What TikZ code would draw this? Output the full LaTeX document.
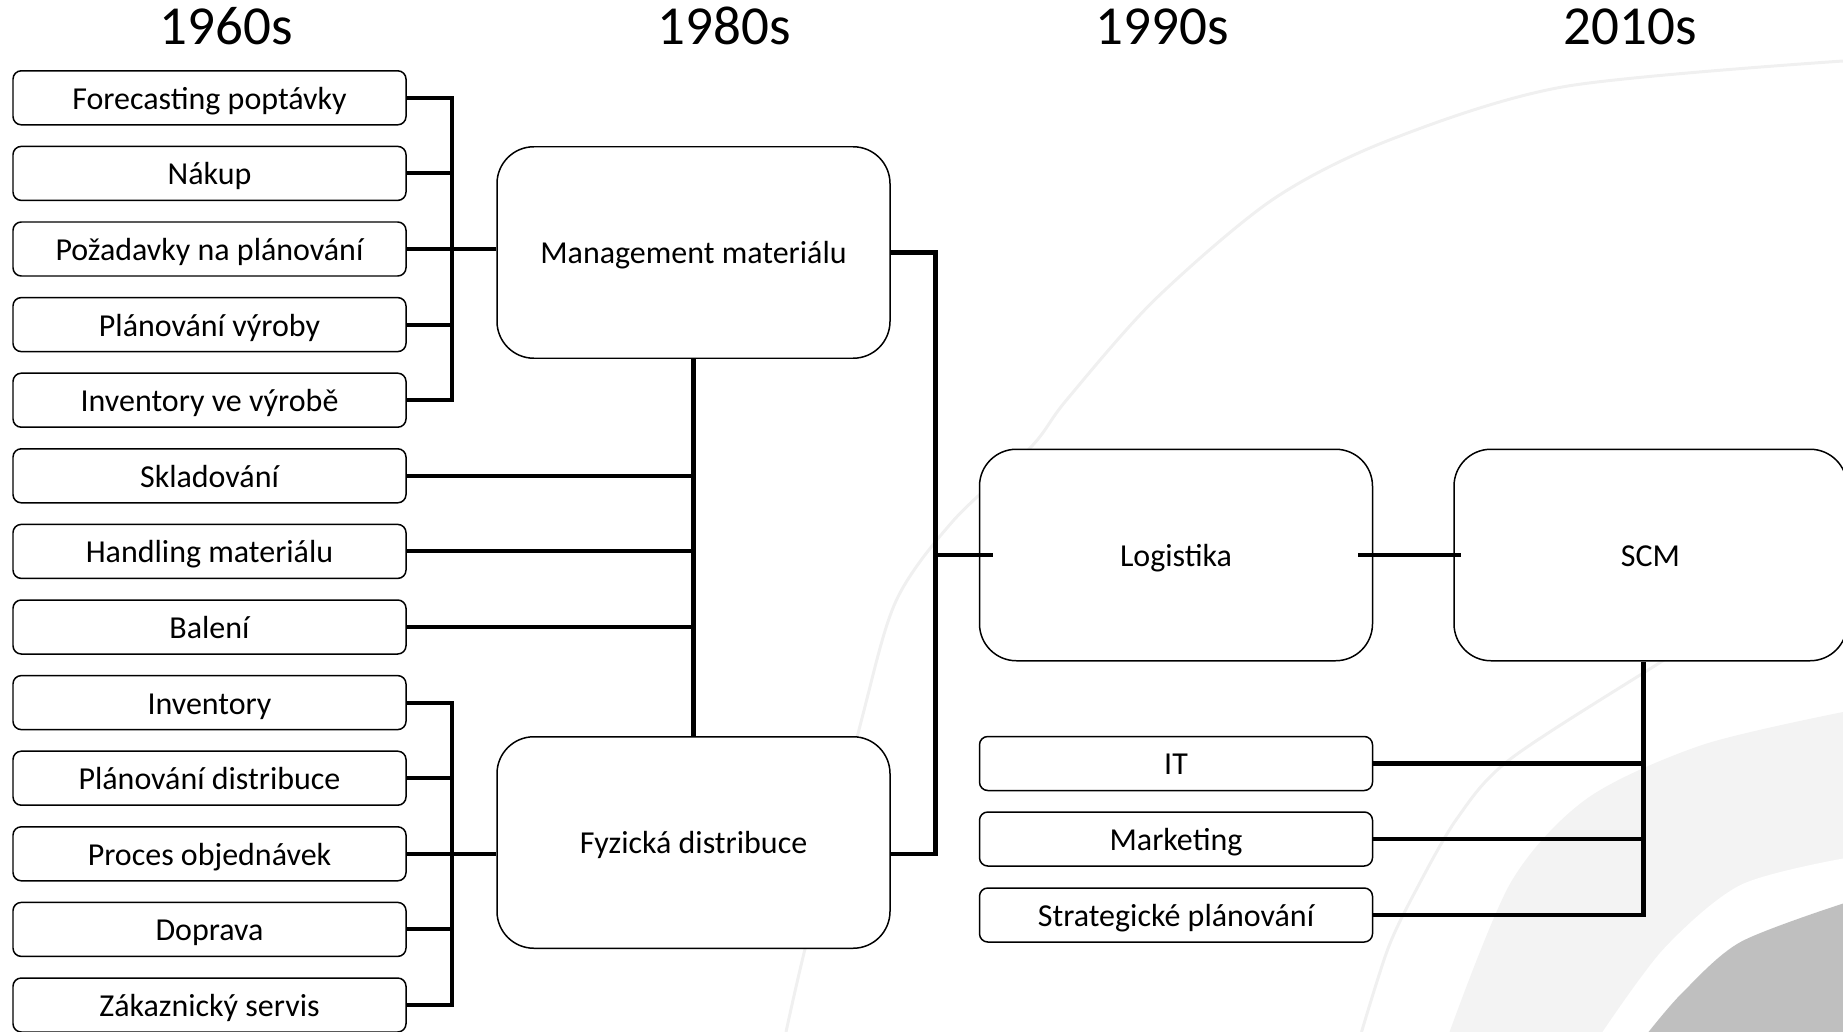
\documentclass[tikz,border=0pt]{standalone}
\usepackage{fontspec}
\setmainfont{Carlito}
\usepackage{tikz}
\usetikzlibrary{positioning}
\usepackage{xcolor}

\definecolor{ringline}{HTML}{F0F0F0}
\definecolor{ringlight}{HTML}{F3F3F3}
\definecolor{ringdark}{HTML}{BFBFBF}

\tikzset{
  itembox/.style={draw, line width=0.85pt, rounded corners=4.7pt, fill=white,
    minimum width=7.86cm, minimum height=1.08cm, inner sep=0pt,
    text height=15pt, text depth=2pt, font=\fontsize{18.2}{21}\selectfont},
  stagebox/.style={itembox, rounded corners=21pt, minimum height=4.23cm},
  era/.style={anchor=base, font=\fontsize{31.3}{36}\selectfont},
  link/.style={line width=2.3pt},
  ring/.style={line width=1.7pt, color=ringline}
}

\begin{document}
\begin{tikzpicture}

\useasboundingbox (0,0) rectangle (36.86,-20.64);

% background rings
\draw[ring] plot[smooth] coordinates {(36.86,-1.22) (31.3,-1.73) (27.79,-2.8) (25.44,-4) (23.09,-6) (21.33,-8) (20.63,-8.93) (19.06,-10.42) (17.92,-12.02) (17.22,-14.44) (16.08,-19.06) (15.72,-20.64)};
\draw[ring] plot[smooth] coordinates {(36.86,-11.1) (35.2,-12.0) (33.28,-13.2) (30.22,-15.17) (29.14,-16.37) (28.3,-17.84) (27.76,-18.97) (27.23,-20.64)};
\fill[ringlight] plot[smooth] coordinates {(36.86,-14.24) (34.04,-14.9) (31.74,-15.97) (30.22,-17.64) (28.99,-20.64)} -- (36.86,-20.64) -- cycle;
\fill[white] plot[smooth] coordinates {(36.86,-17.17) (34.81,-17.7) (33.28,-18.97) (32.05,-20.64)} -- (36.86,-20.64) -- cycle;
\fill[ringdark] plot[smooth] coordinates {(36.86,-18.07) (34.81,-18.84) (33.66,-19.84) (32.97,-20.64)} -- (36.86,-20.64) -- cycle;

% decades
\node[era] (t60) at (4.52,-0.9) {1960s};
\node[era] (t80) at (14.48,-0.9) {1980s};
\node[era] (t90) at (23.24,-0.9) {1990s};
\node[era] (t10) at (32.6,-0.9) {2010s};

% 1960s
\node[itembox] (fore) at (4.19,-1.956) {Forecasting poptávky};
\node[itembox] (nakup) at (4.19,-3.468) {Nákup};
\node[itembox] (pozad) at (4.19,-4.98) {Požadavky na plánování};
\node[itembox] (planvyr) at (4.19,-6.492) {Plánování výroby};
\node[itembox] (invvyr) at (4.19,-8.004) {Inventory ve výrobě};
\node[itembox] (sklad) at (4.19,-9.516) {Skladování};
\node[itembox] (handl) at (4.19,-11.028) {Handling materiálu};
\node[itembox] (balen) at (4.19,-12.54) {Balení};
\node[itembox] (inv) at (4.19,-14.052) {Inventory};
\node[itembox] (plandist) at (4.19,-15.564) {Plánování distribuce};
\node[itembox] (proces) at (4.19,-17.076) {Proces objednávek};
\node[itembox] (doprava) at (4.19,-18.588) {Doprava};
\node[itembox] (zakaz) at (4.19,-20.1) {Zákaznický servis};

% 1980s - 2010s
\node[stagebox] (mgmt) at (13.87,-5.05) {Management materiálu};
\node[stagebox] (fyz) at (13.87,-16.85) {Fyzická distribuce};
\node[stagebox] (logis) at (23.52,-11.1) {Logistika};
\node[stagebox] (scm) at (33.01,-11.1) {SCM};
\node[itembox] (it) at (23.52,-15.27) {IT};
\node[itembox] (mkt) at (23.52,-16.78) {Marketing};
\node[itembox] (strat) at (23.52,-18.3) {Strategické plánování};

\coordinate (brl) at (9.04,0);
\coordinate (brr) at (18.71,0);
\coordinate (brs) at (32.87,0);

\draw[link] (fore.east) -- (fore.east -| brl) -- (invvyr.east -| brl) -- (invvyr.east);
\draw[link] (nakup.east) -- (nakup.east -| brl);
\draw[link] (planvyr.east) -- (planvyr.east -| brl);
\draw[link] (pozad.east) -- (pozad.east -| mgmt.west);

\draw[link] (mgmt.south) -- (fyz.north);
\draw[link] (sklad.east) -- (sklad.east -| mgmt.south);
\draw[link] (handl.east) -- (handl.east -| mgmt.south);
\draw[link] (balen.east) -- (balen.east -| mgmt.south);

\draw[link] (inv.east) -- (inv.east -| brl) -- (zakaz.east -| brl) -- (zakaz.east);
\draw[link] (plandist.east) -- (plandist.east -| brl);
\draw[link] (doprava.east) -- (doprava.east -| brl);
\draw[link] (proces.east) -- (proces.east -| fyz.west);

\draw[link] (mgmt.east) -- (mgmt.east -| brr) -- (proces.east -| brr) -- (proces.east -| fyz.east);
\draw[link] (logis.west -| brr) -- ([xshift=0.28cm]logis.west);
\draw[link] ([xshift=-0.3cm]logis.east) -- ([xshift=0.16cm]scm.west);

\draw[link] (scm.south -| brs) -- (strat.east -| brs) -- (strat.east);
\draw[link] (it.east) -- (it.east -| brs);
\draw[link] (mkt.east) -- (mkt.east -| brs);

\end{tikzpicture}
\end{document}
